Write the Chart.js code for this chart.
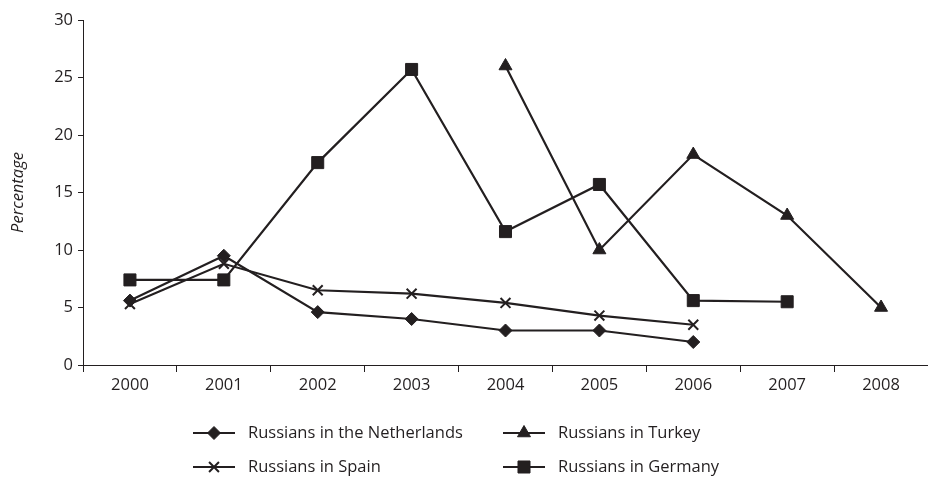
<!DOCTYPE html>
<html>
<head>
<meta charset="utf-8">
<script src="https://cdn.jsdelivr.net/npm/chart.js@4"></script>
<style>
  html, body { margin: 0; padding: 0; background: #fff; }
  #wrap { width: 928px; height: 477px; }
</style>
</head>
<body>
<div id="wrap"><canvas id="myChart" width="928" height="477"></canvas></div>
<script>
const years = ['2000', '2001', '2002', '2003', '2004', '2005', '2006', '2007', '2008']
const netherlands = [5.6, 9.5, 4.6, 4.0, 3.0, 3.0, 2.0, null, null]
const turkey = [null, null, null, null, 26.0, 10.0, 18.3, 13.0, 5.0]
const spain = [5.3, 8.8, 6.5, 6.2, 5.4, 4.3, 3.5, null, null]
const germany = [7.4, 7.4, 17.6, 25.7, 11.6, 15.7, 5.6, 5.5, null]
const yTicks = [0, 5, 10, 15, 20, 25, 30]

const ink = '#231f20'
const font = "'Open Sans', 'Noto Sans', sans-serif"
const fsize = 16.5

function series(label, data, style, radius, extra) {
  return Object.assign({
    label: label,
    data: data,
    borderColor: ink,
    backgroundColor: ink,
    borderWidth: 2.2,
    pointStyle: style,
    pointRadius: radius,
    pointBorderColor: ink,
    pointBackgroundColor: ink,
    pointBorderWidth: 1,
    spanGaps: false,
    tension: 0
  }, extra || {})
}

// legend: line with marker in the middle, two columns
const legendPlugin = {
  id: 'lineLegend',
  afterDraw(chart) {
    const ctx = chart.ctx
    const pos = [[193, 433], [503, 433], [193, 467], [503, 467]]
    chart.data.datasets.forEach((ds, i) => {
      const x = pos[i][0], y = pos[i][1]
      ctx.save()
      ctx.strokeStyle = ink
      ctx.lineWidth = 2.2
      ctx.beginPath()
      ctx.moveTo(x, y)
      ctx.lineTo(x + 42, y)
      ctx.stroke()
      ctx.fillStyle = ink
      ctx.lineWidth = ds.pointStyle === 'crossRot' ? 2 : 1
      Chart.helpers.drawPoint(ctx, { pointStyle: ds.pointStyle, rotation: 0, radius: ds.pointRadius, borderWidth: ctx.lineWidth }, x + 21, y)
      ctx.fillStyle = ink
      ctx.font = fsize + 'px ' + font
      ctx.textBaseline = 'middle'
      ctx.textAlign = 'left'
      ctx.fillText(ds.label, x + 55, y)
      ctx.restore()
    })
  }
}

const data = {
  labels: years,
  datasets: [
    series('Russians in the Netherlands', netherlands, 'rectRot', 6.5),
    series('Russians in Turkey', turkey, 'triangle', 7.5),
    series('Russians in Spain', spain, 'crossRot', 7, { pointBorderWidth: 2 }),
    series('Russians in Germany', germany, 'rect', 8.5)
  ]
}

const config = {
  type: 'line',
  data,
  plugins: [legendPlugin],
  options: {
    responsive: false,
    animation: false,
    layout: { autoPadding: false, padding: { top: 20, right: -3, bottom: 0, left: 0 } },
    plugins: {
      legend: { display: false },
      tooltip: { enabled: false }
    },
    scales: {
      x: {
        offset: true,
        grid: { offset: true, drawOnChartArea: false, tickLength: 7, color: ink, lineWidth: 1 },
        border: { color: ink, width: 1 },
        ticks: { color: ink, font: { family: font, size: fsize }, padding: 3, maxRotation: 0 },
        afterFit(scale) { scale.height = 112 }
      },
      y: {
        min: 0,
        max: 30,
        afterBuildTicks(scale) { scale.ticks = yTicks.map(v => ({ value: v })) },
        grid: { drawOnChartArea: false, tickLength: 5, color: ink, lineWidth: 1 },
        border: { color: ink, width: 1 },
        ticks: { color: ink, font: { family: font, size: fsize }, padding: 5 },
        title: {
          display: true,
          text: 'Percentage',
          color: ink,
          font: { family: font, size: fsize, style: 'italic' },
          padding: { top: 8, bottom: 0 }
        },
        afterFit(scale) { scale.width = 83 }
      }
    }
  }
}

const myChart = new Chart(document.getElementById('myChart'), config)
</script>
</body>
</html>
